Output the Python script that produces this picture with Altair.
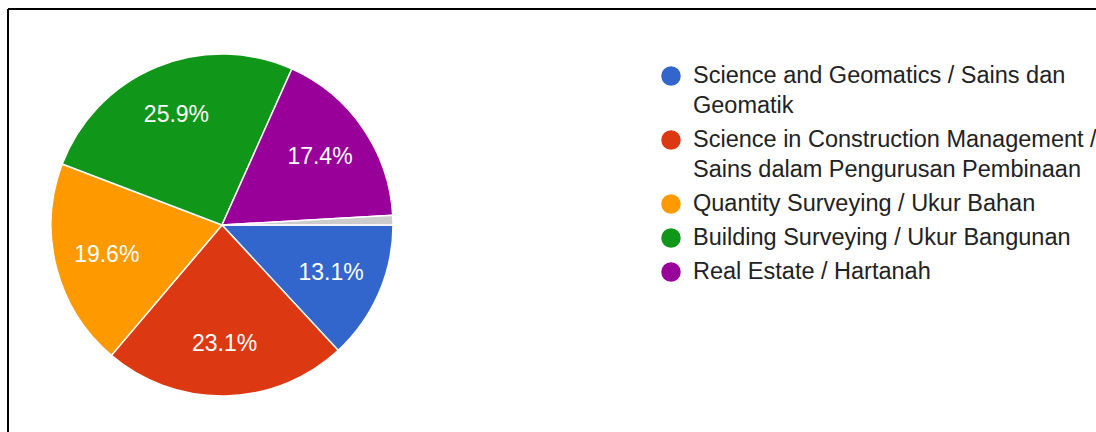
import math
import altair as alt
import pandas as pd

# ---- data ----
categories = [
    "Science and Geomatics / Sains dan Geomatik",
    "Science in Construction Management / Sains dalam Pengurusan Pembinaan",
    "Quantity Surveying / Ukur Bahan",
    "Building Surveying / Ukur Bangunan",
    "Real Estate / Hartanah",
    "Other",
]
percent = [13.1, 23.1, 19.6, 25.9, 17.4, 0.9]
colors = ["#3366CC", "#DC3912", "#FF9900", "#109618", "#990099", "#CCCCCC"]
legend_lines = [
    ["Science and Geomatics / Sains dan", "Geomatik"],
    ["Science in Construction Management /", "Sains dalam Pengurusan Pembinaan"],
    ["Quantity Surveying / Ukur Bahan"],
    ["Building Surveying / Ukur Bangunan"],
    ["Real Estate / Hartanah"],
]

FONT = "Liberation Sans"
W, H = 1088, 423

pie_df = pd.DataFrame({
    "category": categories,
    "percent": percent,
    "order": list(range(len(categories))),
    "label": [f"{p:.1f}%" if c != "Other" else "" for c, p in zip(categories, percent)],
})

rows = []
y = 67
for cat, lines in zip(categories[:5], legend_lines):
    for j, line in enumerate(lines):
        rows.append({"category": cat, "line": line, "ly": y + j * 30, "first": j == 0})
    y = rows[-1]["ly"] + 34
leg_df = pd.DataFrame(rows)

color_scale = alt.Scale(domain=categories, range=colors)
theta = alt.Theta("percent:Q", stack=True,
                  scale=alt.Scale(range=[math.pi / 2, math.pi / 2 + 2 * math.pi]))

base = alt.Chart(pie_df).encode(
    theta=theta,
    order=alt.Order("order:Q"),
    detail="category:N",
    x=alt.value(214),
    y=alt.value(216),
)
arcs = base.mark_arc(outerRadius=171, stroke="white", strokeWidth=1.5).encode(
    color=alt.Color("category:N", scale=color_scale, legend=None)
)
labels = base.mark_text(radius=119, fontSize=23, font=FONT, color="white").encode(
    text="label:N"
)

leg = alt.Chart(leg_df)
sym = leg.transform_filter("datum.first").mark_circle(size=380, opacity=1).encode(
    x=alt.value(663),
    y=alt.Y("ly:Q", scale=None),
    color=alt.Color("category:N", scale=color_scale, legend=None),
)
txt = leg.mark_text(align="left", baseline="middle", fontSize=23.5, font=FONT,
                    color="#222222").encode(
    x=alt.value(685),
    y=alt.Y("ly:Q", scale=None),
    text="line:N",
)

one = alt.Chart(pd.DataFrame({"k": [0]}))
top = one.mark_rule(color="black", strokeWidth=2).encode(
    x=alt.value(0), x2=alt.value(W), y=alt.value(0))
left = one.mark_rule(color="black", strokeWidth=2).encode(
    x=alt.value(0), y=alt.value(0), y2=alt.value(H))

chart = alt.layer(top, left, arcs, labels, sym, txt).properties(
    width=W,
    height=H,
    padding={"left": 8, "top": 9, "right": 0, "bottom": 0},
    autosize=alt.AutoSizeParams(type="none"),
    background="white",
).configure_view(stroke=None)

chart.save("out.html", embed_options={"renderer": "svg", "actions": False})
